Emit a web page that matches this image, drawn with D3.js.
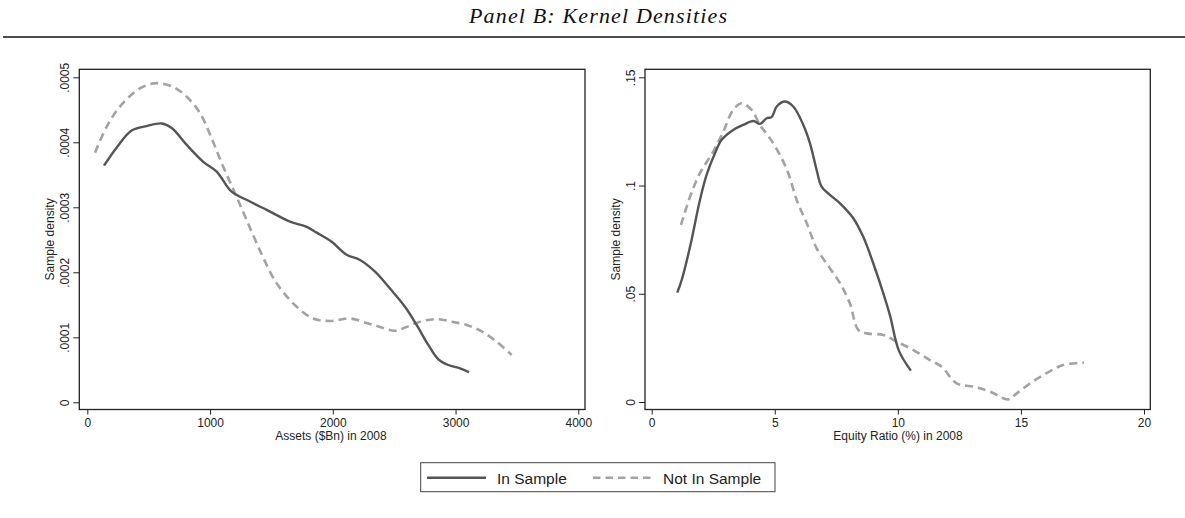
<!DOCTYPE html>
<html>
<head>
<meta charset="utf-8">
<title>Panel B: Kernel Densities</title>
<script src="https://d3js.org/d3.v7.min.js"></script>
<style>
  body { margin: 0; background: #fff; }
  svg { display: block; }
  text { font-family: "Liberation Sans", Arial, sans-serif; fill: #222; }
  .tick line { stroke: #222; }
  .frame { fill: none; stroke: #222; stroke-width: 1.3; }
</style>
</head>
<body>
<svg width="1185" height="518"></svg>
<script>
// series: [x, density]
const assetsIn = [[136,0.000364],[240,0.000392],[361,0.000418],[484,0.000425],[606,0.000429],[688,0.000422],[810,0.000396],[945,0.000370],[1054,0.000355],[1176,0.000324],[1325,0.000309],[1461,0.000296],[1651,0.000278],[1787,0.000270],[1869,0.000261],[1991,0.000247],[2113,0.000227],[2222,0.000219],[2344,0.000201],[2466,0.000175],[2588,0.000147],[2683,0.000119],[2778,0.0000882],[2860,0.0000662],[2941,0.0000574],[3036,0.0000523],[3110,0.0000462]];
const assetsOut = [[63,0.000384],[158,0.000424],[266,0.000455],[429,0.000483],[565,0.000491],[701,0.000485],[810,0.000470],[918,0.000445],[1013,0.000406],[1108,0.000362],[1203,0.000322],[1299,0.000280],[1420,0.000228],[1543,0.000183],[1706,0.000147],[1841,0.000129],[1977,0.000125],[2140,0.000129],[2276,0.000122],[2385,0.000116],[2507,0.000110],[2602,0.000116],[2711,0.000124],[2846,0.000128],[2969,0.000124],[3091,0.000119],[3213,0.000109],[3335,0.0000932],[3457,0.0000728]];
const equityIn = [[1.04,0.0505],[1.22,0.0564],[1.56,0.0718],[1.96,0.0933],[2.23,0.1049],[2.57,0.1149],[2.84,0.1211],[3.31,0.1257],[3.72,0.1280],[4.13,0.1298],[4.40,0.1285],[4.67,0.1311],[4.87,0.1316],[5.08,0.1365],[5.41,0.1388],[5.75,0.1365],[6.16,0.1280],[6.43,0.1195],[6.70,0.1072],[6.90,0.0995],[7.24,0.0957],[7.65,0.0918],[8.19,0.0849],[8.59,0.0764],[9.0,0.0641],[9.41,0.0502],[9.68,0.0400],[10.05,0.0235],[10.53,0.0145]];
const equityOut = [[1.19,0.0818],[1.56,0.0949],[1.96,0.1057],[2.50,0.1157],[2.91,0.1249],[3.31,0.1349],[3.66,0.1380],[4.06,0.1349],[4.40,0.1280],[4.80,0.1219],[5.21,0.1141],[5.55,0.1057],[5.89,0.0933],[6.30,0.0826],[6.70,0.0710],[7.24,0.0618],[7.65,0.0549],[8.05,0.0456],[8.39,0.0333],[8.73,0.0317],[9.41,0.0310],[9.95,0.0279],[10.63,0.0240],[11.30,0.0194],[11.78,0.0163],[12.39,0.0086],[13.06,0.0071],[13.74,0.0048],[14.48,0.0012],[14.83,0.0040],[15.37,0.0086],[16.04,0.0133],[16.72,0.0171],[17.56,0.0182]];

const assetsXTicks = [0, 1000, 2000, 3000, 4000];
const assetsYTicks = [0, 0.0001, 0.0002, 0.0003, 0.0004, 0.0005];
const equityXTicks = [0, 5, 10, 15, 20];
const equityYTicks = [0, 0.05, 0.1, 0.15];

const title = 'Panel B: Kernel Densities';
const seriesNames = ['In Sample', 'Not In Sample'];

let svg = d3.select('svg');

// Stata-style labels: drop the leading zero
let stataFmt = d => d === 0 ? '0' : String(d).replace(/^0\./, '.');

svg.append('text')
    .attr('x', 598).attr('y', 23)
    .attr('text-anchor', 'middle')
    .attr('textLength', 258)
    .attr('lengthAdjust', 'spacing')
    .style('font-family', '"Liberation Serif", "DejaVu Serif", serif')
    .style('font-style', 'italic')
    .style('font-size', '22px')
    .style('fill', '#111')
    .text(title);

svg.append('line')
    .attr('x1', 3).attr('x2', 1185).attr('y1', 37).attr('y2', 37)
    .style('stroke', '#111').style('stroke-width', 1.5);

const panels = [
    { frame: [79.3, 69.3, 585, 409.5], xr: [87.3, 578.3], yr: [402.3, 77.3],
      xDom: [0, 4000], yDom: [0, 0.0005], xTicks: assetsXTicks, yTicks: assetsYTicks,
      inS: assetsIn, outS: assetsOut, xTitle: 'Assets ($Bn) in 2008', xTitleX: 331 },
    { frame: [645, 69.3, 1150.3, 409.5], xr: [651.7, 1144], yr: [402, 77.3],
      xDom: [0, 20], yDom: [0, 0.15], xTicks: equityXTicks, yTicks: equityYTicks,
      inS: equityIn, outS: equityOut, xTitle: 'Equity Ratio (%) in 2008', xTitleX: 898 }
];

panels.forEach(p => {
    let [l, t, r, b] = p.frame;
    let x = d3.scaleLinear().domain(p.xDom).range(p.xr);
    let y = d3.scaleLinear().domain(p.yDom).range(p.yr);

    let xAxis = svg.append('g')
        .attr('transform', `translate(0,${b})`)
        .call(d3.axisBottom(x).tickValues(p.xTicks).tickSize(5).tickPadding(4)
            .tickFormat(d3.format('d')));
    xAxis.select('.domain').remove();
    xAxis.selectAll('text').style('font-size', '12px').attr('dy', '0.71em');

    let yAxis = svg.append('g')
        .attr('transform', `translate(${l},0)`)
        .call(d3.axisLeft(y).tickValues(p.yTicks).tickSize(6).tickFormat(stataFmt));
    yAxis.select('.domain').remove();
    yAxis.selectAll('text')
        .style('font-size', '12px')
        .attr('x', 0).attr('y', -10).attr('dy', 0)
        .attr('text-anchor', 'middle')
        .attr('transform', 'rotate(-90)');

    svg.append('rect').attr('class', 'frame')
        .attr('x', l).attr('y', t).attr('width', r - l).attr('height', b - t);

    svg.append('text')
        .attr('transform', `translate(${l - 25.5},${(t + b) / 2}) rotate(-90)`)
        .attr('text-anchor', 'middle')
        .style('font-size', '12px')
        .text('Sample density');

    svg.append('text')
        .attr('x', p.xTitleX).attr('y', b + 30)
        .attr('text-anchor', 'middle')
        .style('font-size', '12px')
        .text(p.xTitle);

    let line = d3.line().x(d => x(d[0])).y(d => y(d[1])).curve(d3.curveCatmullRom);

    svg.append('path').datum(p.outS)
        .attr('d', line)
        .style('fill', 'none').style('stroke', '#a3a3a3')
        .style('stroke-width', 2.6).style('stroke-dasharray', '8,5');

    svg.append('path').datum(p.inS)
        .attr('d', line)
        .style('fill', 'none').style('stroke', '#555')
        .style('stroke-width', 2.4).style('stroke-linejoin', 'round');
});

// legend
let lg = svg.append('g');
lg.append('rect')
    .attr('x', 420.7).attr('y', 462.7).attr('width', 354.3).attr('height', 29)
    .style('fill', '#fff').style('stroke', '#444').style('stroke-width', 1);
lg.append('line').attr('x1', 427).attr('x2', 486).attr('y1', 477.7).attr('y2', 477.7)
    .style('stroke', '#555').style('stroke-width', 2.6);
lg.append('text').attr('x', 497).attr('y', 484).style('font-size', '15.5px').text(seriesNames[0]);
lg.append('line').attr('x1', 593).attr('x2', 653).attr('y1', 477.7).attr('y2', 477.7)
    .style('stroke', '#a3a3a3').style('stroke-width', 2.6).style('stroke-dasharray', '7.5,5');
lg.append('text').attr('x', 663).attr('y', 484).style('font-size', '15.5px').text(seriesNames[1]);
</script>
</body>
</html>
